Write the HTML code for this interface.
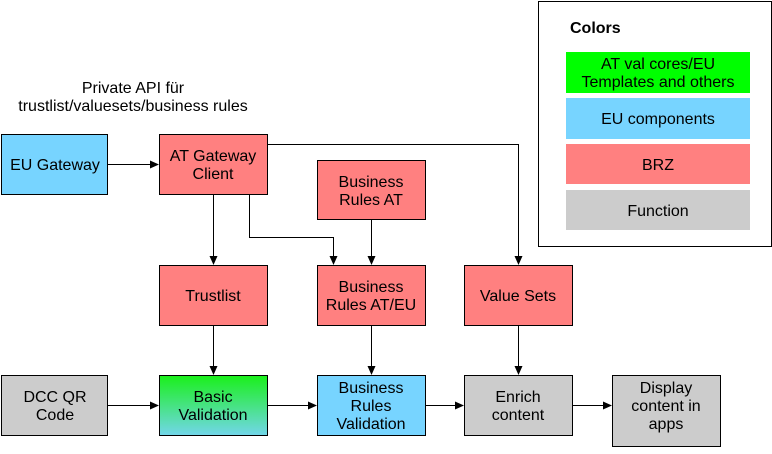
<!DOCTYPE html>
<html><head><meta charset="utf-8"><style>
body{margin:0;width:772px;height:449px;background:#fff;overflow:hidden}
svg text{font-family:"Liberation Sans",sans-serif;font-size:16px;fill:#000}
</style></head><body>
<svg width="772" height="449" viewBox="0 0 772 449">
<defs>
<marker id="a" markerWidth="10" markerHeight="10" refX="8" refY="4" orient="auto" markerUnits="userSpaceOnUse"><path d="M0,0 L9,4 L0,8 z" fill="#000"/></marker>
<linearGradient id="g" x1="0" y1="0" x2="0" y2="1"><stop offset="0" stop-color="#1af01a"/><stop offset="1" stop-color="#72d6ea"/></linearGradient>
</defs>
<rect x="538.5" y="1.5" width="233" height="245" fill="#fff" stroke="#000"/>
<text x="570" y="33" font-weight="bold">Colors</text>
<rect x="566" y="52" width="184" height="41" fill="#00ff00"/>
<text x="658" y="69" text-anchor="middle">AT val cores/EU</text>
<text x="658" y="87" text-anchor="middle">Templates and others</text>
<rect x="566" y="98" width="184" height="41" fill="#77d4ff"/>
<text x="658" y="124" text-anchor="middle">EU components</text>
<rect x="566" y="144" width="184" height="40" fill="#ff8080"/>
<text x="658" y="170" text-anchor="middle">BRZ</text>
<rect x="566" y="190" width="184" height="40" fill="#cccccc"/>
<text x="658" y="216" text-anchor="middle">Function</text>

<text x="133" y="93" text-anchor="middle">Private API für</text>
<text x="133" y="111" text-anchor="middle">trustlist/valuesets/business rules</text>

<g stroke="#000" stroke-width="1">
<rect x="1.5" y="134.5" width="106" height="60" fill="#77d4ff"/>
<rect x="159.5" y="134.5" width="108" height="60" fill="#ff8080"/>
<rect x="317.5" y="160.5" width="108" height="59" fill="#ff8080"/>
<rect x="159.5" y="265.5" width="108" height="60" fill="#ff8080"/>
<rect x="317.5" y="265.5" width="108" height="60" fill="#ff8080"/>
<rect x="464.5" y="265.5" width="108" height="60" fill="#ff8080"/>
<rect x="1.5" y="375.5" width="106" height="60" fill="#cccccc"/>
<rect x="159.5" y="375.5" width="108" height="60" fill="url(#g)"/>
<rect x="317.5" y="375.5" width="108" height="60" fill="#77d4ff"/>
<rect x="464.5" y="375.5" width="108" height="60" fill="#cccccc"/>
<rect x="612.5" y="375.5" width="108" height="71" fill="#cccccc"/>
</g>
<g stroke="#000" fill="none" marker-end="url(#a)">
<path d="M108,164.5 H158"/>
<path d="M268,144.5 H518.5 V264"/>
<path d="M213.5,195 V264"/>
<path d="M249.5,195 V237.5 H333.5 V264"/>
<path d="M371.5,220 V264"/>
<path d="M213.5,326 V374"/>
<path d="M371.5,326 V374"/>
<path d="M518.5,326 V374"/>
<path d="M108,405.5 H158"/>
<path d="M268,405.5 H316"/>
<path d="M426,405.5 H463"/>
<path d="M573,405.5 H611"/>
</g>
<g text-anchor="middle">
<text x="55" y="170">EU Gateway</text>
<text x="213" y="161">AT Gateway</text><text x="213" y="179">Client</text>
<text x="371" y="187">Business</text><text x="371" y="205">Rules AT</text>
<text x="213" y="301">Trustlist</text>
<text x="371" y="292">Business</text><text x="371" y="310">Rules AT/EU</text>
<text x="518" y="301">Value Sets</text>
<text x="55" y="402">DCC QR</text><text x="55" y="420">Code</text>
<text x="213" y="402">Basic</text><text x="213" y="420">Validation</text>
<text x="371" y="393">Business</text><text x="371" y="411">Rules</text><text x="371" y="429">Validation</text>
<text x="518" y="402">Enrich</text><text x="518" y="420">content</text>
<text x="666" y="393">Display</text><text x="666" y="411">content in</text><text x="666" y="429">apps</text>
</g>
</svg>
</body></html>
